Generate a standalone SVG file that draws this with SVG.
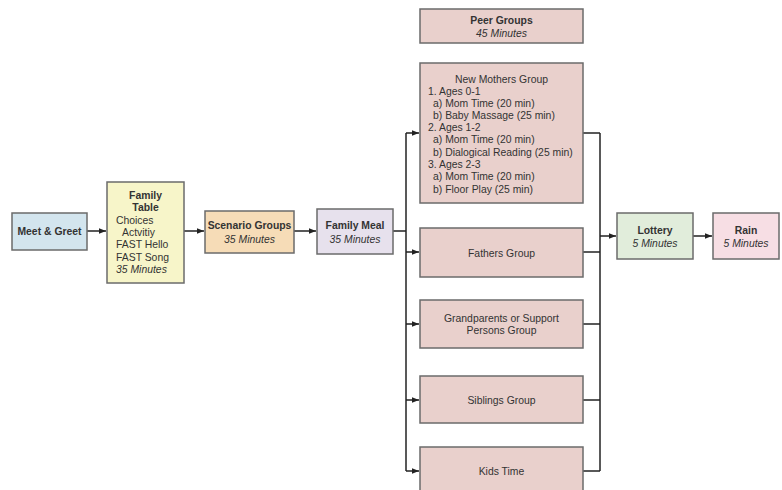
<svg xmlns="http://www.w3.org/2000/svg" width="782" height="490" viewBox="0 0 782 490">
<defs>
<marker id="ah" viewBox="0 0 10 10" refX="10" refY="5" markerWidth="7" markerHeight="7" markerUnits="userSpaceOnUse" orient="auto"><path d="M0,1 L10,5 L0,9 z" fill="#222"/></marker>
<style>
.box{stroke:#6b6b6b;stroke-width:1.5}
.t{font-family:"Liberation Sans",Arial,sans-serif;font-size:10.4px;fill:#333}
.b{font-weight:bold}
.i{font-style:italic}
.c{text-anchor:middle}
.ln{fill:none;stroke:#222;stroke-width:1.5}
</style>
</defs>
<rect width="782" height="490" fill="#fff"/>
<g id="connectors">
<line class="ln" x1="87" y1="231" x2="106" y2="231" marker-end="url(#ah)"/>
<line class="ln" x1="184" y1="231" x2="204" y2="231" marker-end="url(#ah)"/>
<line class="ln" x1="294" y1="231" x2="316" y2="231" marker-end="url(#ah)"/>
<polyline class="ln" points="393,231 406,231"/>
<line class="ln" x1="406" y1="133" x2="406" y2="471"/>
<line class="ln" x1="406" y1="133" x2="419" y2="133" marker-end="url(#ah)"/>
<line class="ln" x1="406" y1="252" x2="419" y2="252" marker-end="url(#ah)"/>
<line class="ln" x1="406" y1="324" x2="419" y2="324" marker-end="url(#ah)"/>
<line class="ln" x1="406" y1="400" x2="419" y2="400" marker-end="url(#ah)"/>
<line class="ln" x1="406" y1="471" x2="419" y2="471" marker-end="url(#ah)"/>
<line class="ln" x1="600" y1="133" x2="600" y2="471"/>
<line class="ln" x1="583" y1="133" x2="600" y2="133"/>
<line class="ln" x1="583" y1="252" x2="600" y2="252"/>
<line class="ln" x1="583" y1="324" x2="600" y2="324"/>
<line class="ln" x1="583" y1="400" x2="600" y2="400"/>
<line class="ln" x1="583" y1="471" x2="600" y2="471"/>
<line class="ln" x1="600" y1="236" x2="616" y2="236" marker-end="url(#ah)"/>
<line class="ln" x1="693" y1="236" x2="712" y2="236" marker-end="url(#ah)"/>
</g>
<g id="meet">
<rect class="box" x="12" y="213" width="75" height="37" fill="#d3e5ee"/>
<text class="t b c" x="49.5" y="235">Meet &amp; Greet</text>
</g>
<g id="familytable">
<rect class="box" x="107" y="182" width="77" height="101" fill="#f7f5c9"/>
<text class="t b c" x="145.5" y="199">Family</text>
<text class="t b c" x="145.5" y="211">Table</text>
<text class="t" x="116" y="224">Choices</text>
<text class="t" x="122" y="236">Actvitiy</text>
<text class="t" x="116" y="248">FAST Hello</text>
<text class="t" x="116" y="261">FAST Song</text>
<text class="t i" x="116" y="273">35 Minutes</text>
</g>
<g id="scenario">
<rect class="box" x="205" y="211" width="89" height="42" fill="#f6dcb7"/>
<text class="t b c" x="249.5" y="229">Scenario Groups</text>
<text class="t i c" x="249.5" y="243">35 Minutes</text>
</g>
<g id="meal">
<rect class="box" x="317" y="209" width="76" height="45" fill="#e7e1ed"/>
<text class="t b c" x="355" y="229">Family Meal</text>
<text class="t i c" x="355" y="243">35 Minutes</text>
</g>
<g id="peer">
<rect class="box" x="420" y="9" width="163" height="34" fill="#e9d0cc"/>
<text class="t b c" x="501.5" y="24">Peer Groups</text>
<text class="t i c" x="501.5" y="37">45 Minutes</text>
</g>
<g id="mothers">
<rect class="box" x="420" y="63" width="163" height="140" fill="#e9d0cc"/>
<text class="t c" x="501.5" y="83">New Mothers Group</text>
<text class="t" x="428" y="95">1. Ages 0-1</text>
<text class="t" x="433" y="107">a) Mom Time (20 min)</text>
<text class="t" x="433" y="119">b) Baby Massage (25 min)</text>
<text class="t" x="428" y="131">2. Ages 1-2</text>
<text class="t" x="433" y="143">a) Mom Time (20 min)</text>
<text class="t" x="433" y="156">b) Dialogical Reading (25 min)</text>
<text class="t" x="428" y="168">3. Ages 2-3</text>
<text class="t" x="433" y="180">a) Mom Time (20 min)</text>
<text class="t" x="433" y="193">b) Floor Play (25 min)</text>
</g>
<g id="fathers">
<rect class="box" x="420" y="228" width="163" height="49" fill="#e9d0cc"/>
<text class="t c" x="501.5" y="257">Fathers Group</text>
</g>
<g id="grand">
<rect class="box" x="420" y="300" width="163" height="48" fill="#e9d0cc"/>
<text class="t c" x="501.5" y="322">Grandparents or Support</text>
<text class="t c" x="501.5" y="334">Persons Group</text>
</g>
<g id="siblings">
<rect class="box" x="420" y="376" width="163" height="47" fill="#e9d0cc"/>
<text class="t c" x="501.5" y="404">Siblings Group</text>
</g>
<g id="kids">
<rect class="box" x="420" y="447" width="163" height="48" fill="#e9d0cc"/>
<text class="t c" x="501.5" y="475">Kids Time</text>
</g>
<g id="lottery">
<rect class="box" x="617" y="213" width="76" height="46" fill="#e1eddb"/>
<text class="t b c" x="655" y="234">Lottery</text>
<text class="t i c" x="655" y="247">5 Minutes</text>
</g>
<g id="rain">
<rect class="box" x="713" y="213" width="66" height="46" fill="#f7dee4"/>
<text class="t b c" x="746" y="234">Rain</text>
<text class="t i c" x="746" y="247">5 Minutes</text>
</g>
</svg>
